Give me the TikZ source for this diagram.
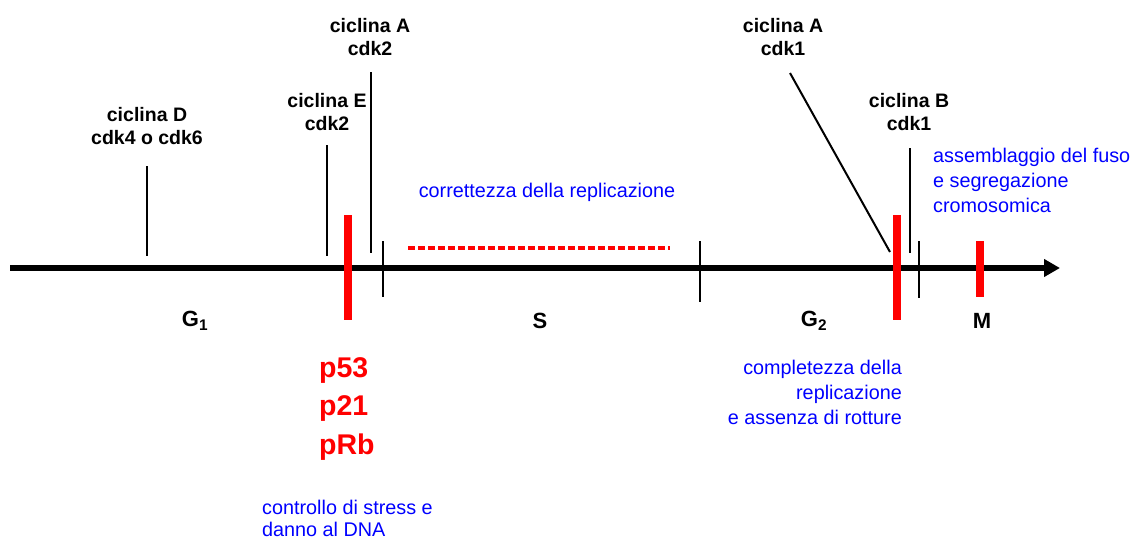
\documentclass[tikz,border=0pt]{standalone}
\usepackage{fontspec}
\setmainfont{Liberation Sans}
\usetikzlibrary{arrows.meta}
\begin{document}
\begin{tikzpicture}[x=1pt,y=-1pt,
 lbl/.style={font=\bfseries\fontsize{19.5}{23}\selectfont, align=center, inner sep=0pt},
 phase/.style={font=\bfseries\fontsize{22}{24}\selectfont, inner sep=0pt},
 note/.style={text=blue, font=\fontsize{19.8}{25}\selectfont, inner sep=0pt},
 prot/.style={text=red, font=\bfseries\fontsize{28.5}{38.5}\selectfont, align=left, inner sep=0pt},
 tick/.style={line width=2pt},
 redbar/.style={red, line width=8pt},
]
\useasboundingbox (0,0) rectangle (1142,543);
% axis
\coordinate (start) at (10,268);
\coordinate (end) at (1060,268);
\draw[line width=6pt, -{Triangle[length=16pt,width=17pt]}] (start) -- (end);

% labels
\node[lbl] (cycD) at (147,126) {ciclina D\\cdk4 o cdk6};
\node[lbl] (cycE) at (327,112) {ciclina E\\cdk2};
\node[lbl] (cycA2) at (370,37) {ciclina A\\cdk2};
\node[lbl] (cycA1) at (783,37) {ciclina A\\cdk1};
\node[lbl] (cycB) at (909,112) {ciclina B\\cdk1};

% tick coordinates
\coordinate (dT) at (147,166); \coordinate (dB) at (147,256);
\coordinate (eT) at (327,145); \coordinate (eB) at (327,256);
\coordinate (a2T) at (371,72); \coordinate (a2B) at (371,253);
\coordinate (sT) at (383,241); \coordinate (sB) at (383,297);
\coordinate (s2T) at (700,241); \coordinate (s2B) at (700,302);
\coordinate (a1T) at (790,73); \coordinate (a1B) at (890,252);
\coordinate (bT) at (910,148); \coordinate (bB) at (910,253);
\coordinate (mT) at (919,241); \coordinate (mB) at (919,298);

\draw[tick] (dT) -- (dB);
\draw[tick] (eT) -- (eB);
\draw[tick] (a2T) -- (a2B);
\draw[tick] (sT) -- (sB);
\draw[tick] (s2T) -- (s2B);
\draw[tick] (a1T) -- (a1B);
\draw[tick] (bT) -- (bB);
\draw[tick] (mT) -- (mB);

% red checkpoints
\coordinate (r1T) at (348,215); \coordinate (r1B) at (348,320);
\coordinate (r2T) at (897,215); \coordinate (r2B) at (897,320);
\coordinate (r3T) at (980,241); \coordinate (r3B) at (980,297);
\draw[redbar] (r1T) -- (r1B);
\draw[redbar] (r2T) -- (r2B);
\draw[redbar] (r3T) -- (r3B);
\coordinate (dashL) at (408,248); \coordinate (dashR) at (670,248);
\draw[red, line width=4.5pt, dash pattern=on 7pt off 3pt] (dashL) -- (dashR);

% phases
\node[phase] (G1) at (195,321) {G\textsubscript{1}};
\node[phase] (S) at (540,321) {S};
\node[phase] (G2) at (814,321) {G\textsubscript{2}};
\node[phase] (M) at (982,321) {M};

% notes
\node[note] (corr) at (547,192) {correttezza della replicazione};
\node[note, align=left, anchor=west] (assem) at (933,180) {assemblaggio del fuso\\e segregazione\\cromosomica};
\node[note, align=right, anchor=east] (compl) at (902,392) {completezza della\\replicazione\\e assenza di rotture};
\node[note, align=left, anchor=west, font=\fontsize{19.8}{22}\selectfont] (stress) at (262,518) {controllo di stress e\\danno al DNA};
\node[prot, anchor=west] (prot) at (319,409) {p53\\p21\\pRb};
\end{tikzpicture}
\end{document}
